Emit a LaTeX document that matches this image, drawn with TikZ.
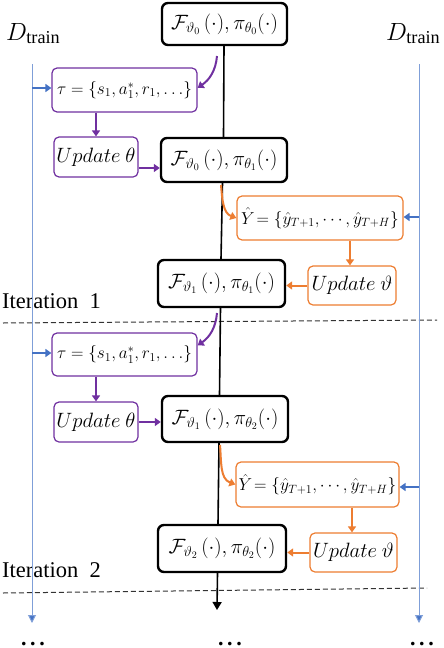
\documentclass[tikz,border=0pt]{standalone}
\usepackage{fontspec}
\setmainfont{Liberation Serif}
\usetikzlibrary{arrows.meta}
\definecolor{purp}{HTML}{7030A0}
\definecolor{orng}{HTML}{ED7D31}
\definecolor{blu}{HTML}{4472C4}
\definecolor{blul}{HTML}{7F9FD8}
\tikzset{
  bbox/.style={draw=black, line width=2.4pt, rounded corners=6pt, fill=white, inner sep=0pt, font=\fontsize{20}{22}\selectfont},
  pbox/.style={draw=purp, line width=1.2pt, rounded corners=5pt, fill=white, inner sep=0pt, font=\fontsize{17}{20}\selectfont},
  obox/.style={draw=orng, line width=1.2pt, rounded corners=5pt, fill=white, inner sep=0pt, font=\fontsize{17}{20}\selectfont},
  upd/.style={font=\fontsize{19.5}{22}\selectfont},
  parr/.style={draw=purp, line width=2pt, -{Triangle[length=6pt,width=8pt]}},
  oarr/.style={draw=orng, line width=2pt, -{Triangle[length=6pt,width=8pt]}},
  barr/.style={draw=blu, line width=2pt, -{Triangle[length=6pt,width=8pt]}},
  bline/.style={draw=blul, line width=1pt, -{Triangle[length=8pt,width=8pt,fill=blu]}},
  kline/.style={draw=black, line width=1.6pt},
  dline/.style={draw=black!80, line width=1pt, dash pattern=on 5pt off 3pt},
  lbl/.style={inner sep=0pt, font=\fontsize{22.5}{25}\selectfont},
  dlbl/.style={inner sep=0pt, font=\fontsize{26}{28}\selectfont},
  dots/.style={inner sep=0pt, font=\fontsize{22}{24}\selectfont\bfseries}
}
\begin{document}
\begin{tikzpicture}[x=1pt,y=-1pt]
\useasboundingbox (0,0) rectangle (444,648);
% dashed separators
\draw[dline] (3,323) -- (437,320);
\draw[dline] (3,593) -- (427,588);
% labels
\node[dlbl, anchor=base west] (dl) at (6,40) {$D_{\mathrm{train}}$};
\node[dlbl, anchor=base west] (dr) at (386,40) {$D_{\mathrm{train}}$};
\node[lbl, anchor=base west] (it1) at (2,308) {Iteration\ \ 1};
\node[lbl, anchor=base west] (it2) at (2,577) {Iteration\ \ 2};
% blue data lines
\coordinate (lt) at (32,64);
\coordinate (lb) at (32,623);
\coordinate (rt) at (419,64);
\coordinate (rb) at (419,623);
\draw[bline] (lt) -- (lb);
\draw[bline] (rt) -- (rb);
% black model boxes
\node[bbox, minimum width=125pt, minimum height=42pt] (B1) at (224.5,24) {$\mathcal{F}_{\vartheta_0}\,(\cdot),\pi_{\theta_0}(\cdot)$};
\node[bbox, minimum width=126pt, minimum height=44pt] (B2) at (224,160) {$\mathcal{F}_{\vartheta_0}\,(\cdot),\pi_{\theta_1}(\cdot)$};
\node[bbox, minimum width=127pt, minimum height=47pt] (B3) at (221.5,283.5) {$\mathcal{F}_{\vartheta_1}\,(\cdot),\pi_{\theta_1}(\cdot)$};
\node[bbox, minimum width=126pt, minimum height=46pt] (B4) at (225,419) {$\mathcal{F}_{\vartheta_1}\,(\cdot),\pi_{\theta_2}(\cdot)$};
\node[bbox, minimum width=128pt, minimum height=47pt] (B5) at (222,548.5) {$\mathcal{F}_{\vartheta_2}\,(\cdot),\pi_{\theta_2}(\cdot)$};
% purple boxes
\node[pbox, minimum width=145pt, minimum height=44pt] (T1) at (124.5,90) {$\tau=\{s_1,a_1^*,r_1,\ldots\}$};
\node[pbox, upd, minimum width=84pt, minimum height=40pt] (U1) at (96,157) {$Update\ \theta$};
\node[pbox, minimum width=145pt, minimum height=43pt] (T2) at (124.5,354.5) {$\tau=\{s_1,a_1^*,r_1,\ldots\}$};
\node[pbox, upd, minimum width=84pt, minimum height=40pt] (U2) at (96,422) {$Update\ \theta$};
% orange boxes
\node[obox, minimum width=166pt, minimum height=44pt] (Y1) at (320,218) {$\hat{Y}\!=\{\hat{y}_{T+1},\cdots,\hat{y}_{T+H}\}$};
\node[obox, upd, minimum width=88pt, minimum height=39pt] (V1) at (352,285.5) {$Update\ \vartheta$};
\node[obox, minimum width=163pt, minimum height=45pt] (Y2) at (317.5,484.5) {$\hat{Y}\!=\{\hat{y}_{T+1},\cdots,\hat{y}_{T+H}\}$};
\node[obox, upd, minimum width=87pt, minimum height=39pt] (V2) at (353.5,552.5) {$Update\ \vartheta$};
% central black line
\coordinate (kend) at (217,610);
\draw[kline] (B1.south -| 224,0) -- (B2.north -| 223.5,0);
\draw[kline] (B2.south -| 222.5,0) -- (B3.north -| 221,0);
\draw[kline] (B3.south -| 220.5,0) -- (B4.north -| 219.5,0);
\draw[kline] (B4.south -| 219,0) -- (B5.north -| 218,0);
\draw[kline, -{Triangle[length=8pt,width=9pt]}] (B5.south -| 217.5,0) -- (kend);
% purple curved arrows
\coordinate (p1) at (217,56);
\coordinate (p2) at (217,313);
\draw[parr] (p1) to[out=-95,in=35] ([yshift=2pt]T1.east);
\draw[parr] (p2) to[out=-95,in=35] ([yshift=9pt]T2.east);
% purple straight arrows
\draw[parr] (T1.south -| U1.north) -- (U1.north);
\draw[parr] (T2.south -| U2.north) -- (U2.north);
\draw[parr] ([yshift=-11pt]U1.east) -- ([yshift=-11pt]U1.east -| B2.west);
\draw[parr] (U2.east) -- (U2.east -| B4.west);
% orange curved arrows
\coordinate (o1) at (221,185);
\coordinate (o2) at (220,445);
\draw[oarr] (o1) to[out=-85,in=160] (Y1.west);
\draw[oarr] (o2) to[out=-85,in=160] (Y2.west);
% orange straight arrows
\draw[oarr] (Y1.south -| 350,0) -- (V1.north -| 350,0);
\draw[oarr] (Y2.south -| 352,0) -- (V2.north -| 352,0);
\draw[oarr] (V1.west) -- (V1.west -| B3.east);
\draw[oarr] (V2.west) -- (V2.west -| B5.east);
% blue input arrows
\draw[barr] (lt |- 0,88) -- (T1.west |- 0,88);
\draw[barr] (lt |- 0,353) -- (T2.west |- 0,353);
\draw[barr] (rt |- 0,217) -- (Y1.east |- 0,217);
\draw[barr] (rt |- 0,487) -- (Y2.east |- 0,487);
% dots
\node[dots, anchor=base] (d1) at (33,645) {.\,.\,.};
\node[dots, anchor=base] (d2) at (230,645) {.\,.\,.};
\node[dots, anchor=base] (d3) at (422,645) {.\,.\,.};
\end{tikzpicture}
\end{document}
